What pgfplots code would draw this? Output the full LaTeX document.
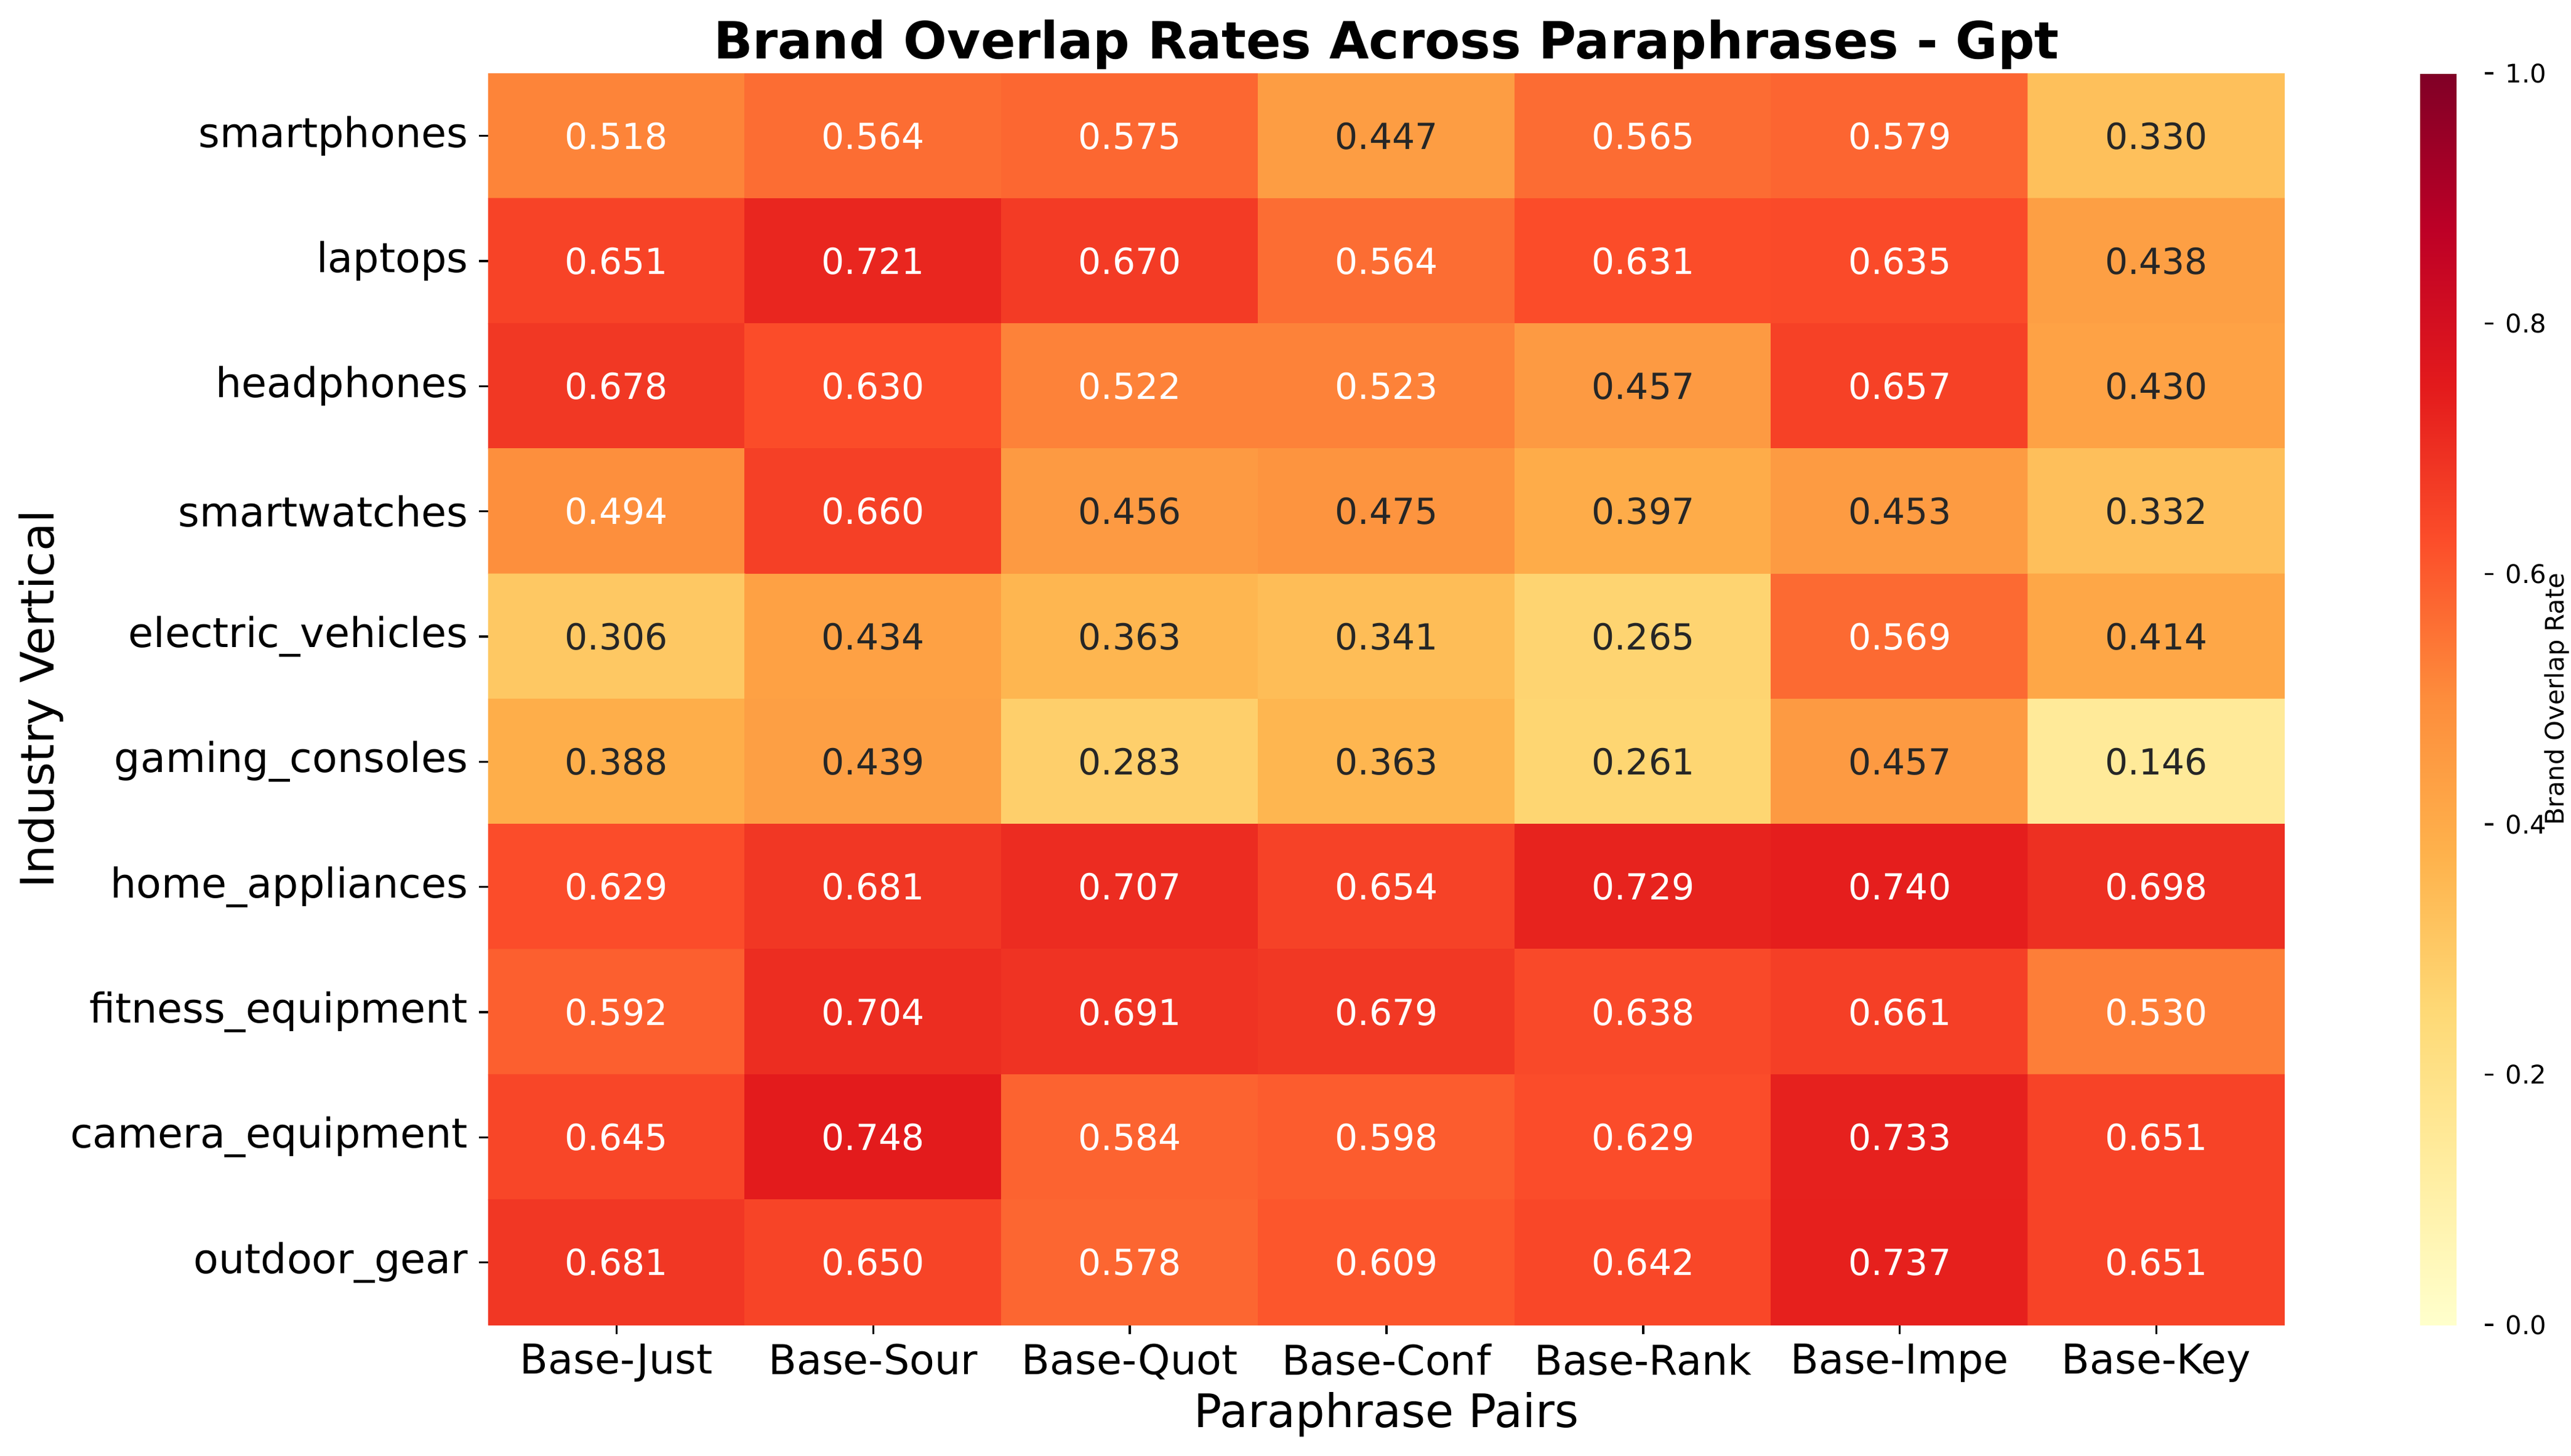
\documentclass[border=0pt]{standalone}
\usepackage{fontspec}
\setmainfont{DejaVu Sans}
\usepackage{pgfplots}
\usepackage{pgfplotstable}
\pgfplotsset{compat=1.18}

% YlOrRd (ColorBrewer, 9 classes)
\pgfplotsset{colormap={ylorrd}{rgb255=(255,255,204) rgb255=(255,237,160)
  rgb255=(254,217,118) rgb255=(254,178,76) rgb255=(253,141,60)
  rgb255=(252,78,42) rgb255=(227,26,28) rgb255=(189,0,38) rgb255=(128,0,38)}}
\definecolor{annotdark}{gray}{0.15}

% x = paraphrase pair, y = industry vertical, v = overlap rate
\pgfplotstableread{
x y v
0 0 0.518
1 0 0.564
2 0 0.575
3 0 0.447
4 0 0.565
5 0 0.579
6 0 0.330
0 1 0.651
1 1 0.721
2 1 0.670
3 1 0.564
4 1 0.631
5 1 0.635
6 1 0.438
0 2 0.678
1 2 0.630
2 2 0.522
3 2 0.523
4 2 0.457
5 2 0.657
6 2 0.430
0 3 0.494
1 3 0.660
2 3 0.456
3 3 0.475
4 3 0.397
5 3 0.453
6 3 0.332
0 4 0.306
1 4 0.434
2 4 0.363
3 4 0.341
4 4 0.265
5 4 0.569
6 4 0.414
0 5 0.388
1 5 0.439
2 5 0.283
3 5 0.363
4 5 0.261
5 5 0.457
6 5 0.146
0 6 0.629
1 6 0.681
2 6 0.707
3 6 0.654
4 6 0.729
5 6 0.740
6 6 0.698
0 7 0.592
1 7 0.704
2 7 0.691
3 7 0.679
4 7 0.638
5 7 0.661
6 7 0.530
0 8 0.645
1 8 0.748
2 8 0.584
3 8 0.598
4 8 0.629
5 8 0.733
6 8 0.651
0 9 0.681
1 9 0.650
2 9 0.578
3 9 0.609
4 9 0.642
5 9 0.737
6 9 0.651
}\heat

\begin{document}
\begin{tikzpicture}
\useasboundingbox (0,0) rectangle (1002.2pt,567.4pt);
\begin{axis}[
  at={(190.3pt,50.9pt)}, anchor=south west,
  scale only axis, width=700.3pt, height=487.9pt,
  xmin=-0.5, xmax=6.5, ymin=-0.5, ymax=9.5, y dir=reverse,
  enlargelimits=false,
  colormap name=ylorrd, point meta min=0, point meta max=1,
  axis line style={draw=none},
  tick align=outside, major tick length=3.6pt,
  tick style={black, line width=0.8pt},
  xtick pos=bottom, ytick pos=left,
  xtick={0,...,6},
  xticklabels={Base-Just,Base-Sour,Base-Quot,Base-Conf,Base-Rank,Base-Impe,Base-Key},
  ytick={0,...,9},
  yticklabels={smartphones,laptops,headphones,smartwatches,electric\_vehicles,
    gaming\_consoles,home\_appliances,fitness\_equipment,camera\_equipment,outdoor\_gear},
  tick label style={font=\fontsize{16}{19}\selectfont},
  xticklabel style={anchor=north, inner sep=0pt, yshift=-3.6pt},
  yticklabel style={anchor=east, inner sep=0pt, xshift=-4.1pt},
  title={Brand Overlap Rates Across Paraphrases - Gpt},
  every axis title/.style={at={(axis description cs:0.5,1)}, anchor=base,
    inner sep=0pt, yshift=5.6pt, font=\bfseries\fontsize{20}{24}\selectfont},
  xlabel={Paraphrase Pairs},
  every axis x label/.style={at={(axis description cs:0.5,0)}, anchor=base,
    inner sep=0pt, yshift=-39.8pt, font=\fontsize{18}{21}\selectfont},
  ylabel={Industry Vertical},
  every axis y label/.style={at={(axis description cs:0,0.5)}, xshift=-183.1pt,
    rotate=90, anchor=north, inner sep=0pt, font=\fontsize{18}{21}\selectfont},
  colorbar,
  colorbar style={
    at={(parent axis.north east)}, anchor=north west, xshift=44.2pt,
    width=25.2pt,
    axis line style={draw=none},
    tick align=outside, major tick length=3.5pt,
    ytick style={black, line width=0.8pt},
    ytick pos=right,
    ytick={0,0.2,0.4,0.6,0.8,1.0},
    yticklabels={0.0,0.2,0.4,0.6,0.8,1.0},
    yticklabel style={anchor=west, inner sep=0pt, xshift=4.4pt,
      font=\fontsize{10}{12}\selectfont},
    ylabel={Brand Overlap Rate},
    every axis y label/.style={at={(axis description cs:1,0.5)}, xshift=23.0pt,
      rotate=90, anchor=north, inner sep=0pt, font=\fontsize{10}{12}\selectfont},
  },
]
\addplot[matrix plot*, mesh/cols=7, point meta=explicit] table[x=x, y=y, meta=v] {\heat};

\addplot[draw=none, mark=none, point meta=explicit symbolic,
  restrict expr to domain={\thisrow{v}}{0.48:2},
  nodes near coords={\pgfplotspointmeta}, nodes near coords align=center,
  every node near coord/.append style={white, inner sep=0pt, font=\fontsize{14}{16}\selectfont}]
  table[x=x, y=y, meta=v] {\heat};

\addplot[draw=none, mark=none, point meta=explicit symbolic,
  restrict expr to domain={\thisrow{v}}{-1:0.48},
  nodes near coords={\pgfplotspointmeta}, nodes near coords align=center,
  every node near coord/.append style={annotdark, inner sep=0pt, font=\fontsize{14}{16}\selectfont}]
  table[x=x, y=y, meta=v] {\heat};
\end{axis}
\end{tikzpicture}
\end{document}
